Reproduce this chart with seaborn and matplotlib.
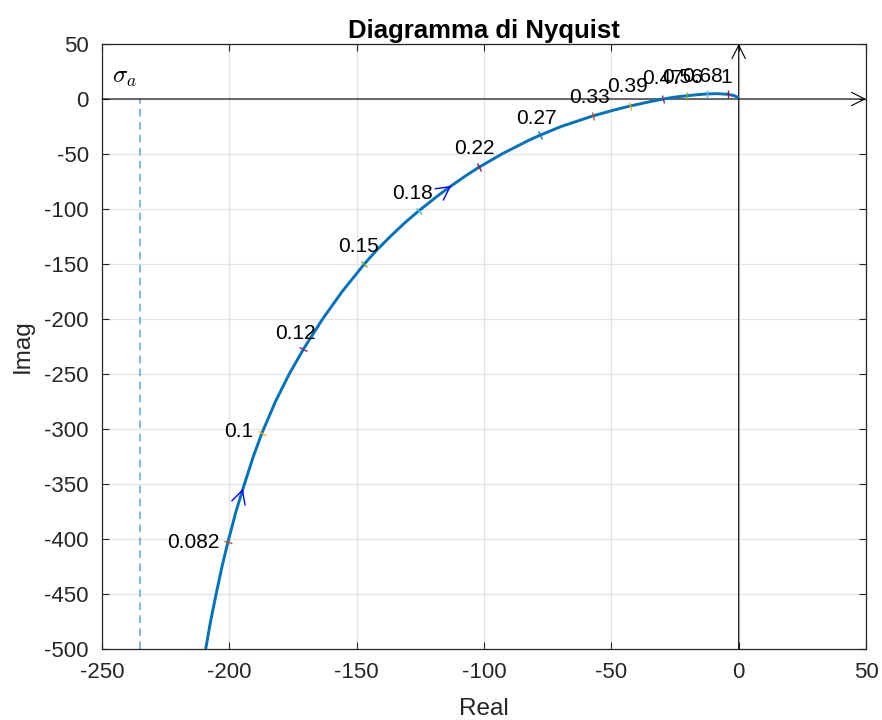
import matplotlib
matplotlib.use("Agg")
import numpy as np
import pandas as pd
import seaborn as sns
import matplotlib.pyplot as plt
from matplotlib.markers import MarkerStyle
from matplotlib.transforms import Affine2D
from matplotlib.patches import FancyArrowPatch

# ---- data (Nyquist curve, Re / Im) ----
curve_re = [-209.3, -207.4, -205.2, -202.9, -200.6, -197.4, -194.7, -190.6, -187.2,
            -181.9, -176.5, -170.9, -163.4, -155.7, -147.0, -142.2, -136.8, -131.1,
            -125.7, -117.9, -112.9, -107.0, -101.8, -93.0, -82.4, -78.1, -69.7,
            -57.4, -48.9, -42.7, -36.0, -29.6, -25.0, -20.4, -16.5, -12.6, -8.5,
            -4.3, -2.0, -0.7, 0.0]
curve_im = [-500.0, -475.0, -450.0, -425.0, -403.0, -375.0, -354.5, -325.0, -303.6,
            -275.0, -250.0, -227.3, -200.0, -175.0, -150.0, -137.5, -125.0, -112.5,
            -101.8, -87.5, -79.0, -69.5, -61.8, -50.0, -37.5, -33.0, -25.0,
            -15.5, -10.0, -6.4, -3.0, 0.0, 1.75, 2.9, 3.85, 4.6, 4.85,
            4.3, 3.2, 1.9, 0.6]

freq_labels = ["0.082", "0.1", "0.12", "0.15", "0.18", "0.22", "0.27",
               "0.33", "0.39", "0.47", "0.56", "0.68", "1"]
freq_re = [-200.6, -187.2, -170.9, -147.0, -125.7, -101.8, -78.1,
           -57.4, -42.7, -29.6, -20.4, -12.6, -4.3]
freq_im = [-403.0, -303.6, -227.3, -150.0, -101.8, -61.8, -33.0,
           -15.5, -6.4, 0.0, 2.9, 4.6, 4.3]

arrow_re = [-194.7, -112.9]
arrow_im = [-354.5, -79.0]

sigma_a = -235.0

x_ticks = [-250, -200, -150, -100, -50, 0, 50]
y_ticks = [-500, -450, -400, -350, -300, -250, -200, -150, -100, -50, 0, 50]

# ---- style ----
sns.set_theme(style="white")
plt.rcParams["font.family"] = ["Liberation Sans", "DejaVu Sans"]
plt.rcParams["mathtext.fontset"] = "cm"
plt.rcParams["axes.unicode_minus"] = False

marker_colors = ["#D95319", "#EDB120", "#7E2F8E", "#77AC30", "#4DBEEE", "#A2142F", "#0072BD"]
label_offsets = [(-34.5, 0), (-23, 1), (-8, 15.5), (-6, 17), (-6, 17), (-5, 18), (-3, 17),
                 (-3, 19), (-2.5, 19.5), (-1, 20), (-4, 18), (-4, 17), (-1.5, 17)]

fig = plt.figure(figsize=(8.82, 7.2), dpi=100)
ax = fig.add_axes([0.1157, 0.0986, 0.8662, 0.8403])

ax.set_xlim(x_ticks[0], x_ticks[-1])
ax.set_ylim(y_ticks[0], y_ticks[-1])
ax.set_xticks(x_ticks)
ax.set_yticks(y_ticks)
ax.grid(True, color="#e3e3e3", linewidth=0.9)
ax.set_axisbelow(True)

for sp in ax.spines.values():
    sp.set_color("#262626")
    sp.set_linewidth(0.9)
    sp.set_visible(True)
ax.tick_params(direction="in", length=5, width=0.8, colors="#262626",
               labelsize=16, pad=9.5, top=True, right=True,
               bottom=True, left=True)

# dashed asymptote
ax.vlines(sigma_a, y_ticks[0], 0, colors="#5DA5DA", linestyles=(0, (5, 3.5)),
          linewidth=1.1, zorder=2)
ax.text(sigma_a - 11, 14.5, r"$\sigma_a$", fontsize=18, ha="left", va="baseline",
        color="black")

# axes lines with arrows
ax.annotate("", xy=(0, y_ticks[-1]), xytext=(0, y_ticks[0]),
            arrowprops=dict(arrowstyle="->,head_length=0.8,head_width=0.4",
                            color="black", lw=0.8, shrinkA=0, shrinkB=0),
            annotation_clip=False, zorder=3)
ax.annotate("", xy=(x_ticks[-1], 0), xytext=(x_ticks[0], 0),
            arrowprops=dict(arrowstyle="->,head_length=0.8,head_width=0.4",
                            color="black", lw=0.8, shrinkA=0, shrinkB=0),
            annotation_clip=False, zorder=3)

# nyquist curve
df = pd.DataFrame({"re": curve_re, "im": curve_im})
sns.lineplot(data=df, x="re", y="im", sort=False, estimator=None,
             color="#0072BD", linewidth=2.1, ax=ax, zorder=4)
line = ax.get_lines()[-1]
line.set_solid_joinstyle("round")
line.set_solid_capstyle("butt")

# display coords of the curve for tangents
disp = ax.transData.transform(np.column_stack([curve_re, curve_im]))

def tangent_angle(xr, yi):
    p = ax.transData.transform((xr, yi))
    d = np.hypot(disp[:, 0] - p[0], disp[:, 1] - p[1])
    i = int(np.argmin(d))
    a = disp[max(i - 1, 0)]
    b = disp[min(i + 1, len(disp) - 1)]
    return np.degrees(np.arctan2(b[1] - a[1], b[0] - a[0])), (b - a)

for k, (lab, xr, yi) in enumerate(zip(freq_labels, freq_re, freq_im)):
    ang, _ = tangent_angle(xr, yi)
    m = MarkerStyle("|", transform=Affine2D().rotate_deg(ang))
    ax.plot([xr], [yi], marker=m, markersize=6, markeredgewidth=1.0,
            color=marker_colors[k % len(marker_colors)], linestyle="none", zorder=5)
    dx, dy = label_offsets[k]
    ax.annotate(lab, xy=(xr, yi), xytext=(dx, dy), textcoords="offset pixels",
                ha="center", va="center", fontsize=15, color="black", zorder=6)

# direction arrows
for xr, yi in zip(arrow_re, arrow_im):
    _, vec = tangent_angle(xr, yi)
    tip = ax.transData.transform((xr, yi))
    u = vec / np.hypot(*vec)
    start = tip - u * 2.0
    arr = FancyArrowPatch(posA=tuple(start), posB=tuple(tip), transform=None,
                          arrowstyle="->,head_length=0.95,head_width=0.5",
                          mutation_scale=10, color="#0000FF", lw=1.0,
                          shrinkA=0, shrinkB=0, zorder=6)
    fig.add_artist(arr)

ax.set_title("Diagramma di Nyquist", fontsize=18.5, fontweight="bold", pad=4,
             color="black")
ax.set_xlabel("Real", fontsize=17.5, color="#262626", labelpad=11)
ax.set_ylabel("Imag", fontsize=17.5, color="#262626", labelpad=7.5)

fig.savefig("out.png", dpi=100)
